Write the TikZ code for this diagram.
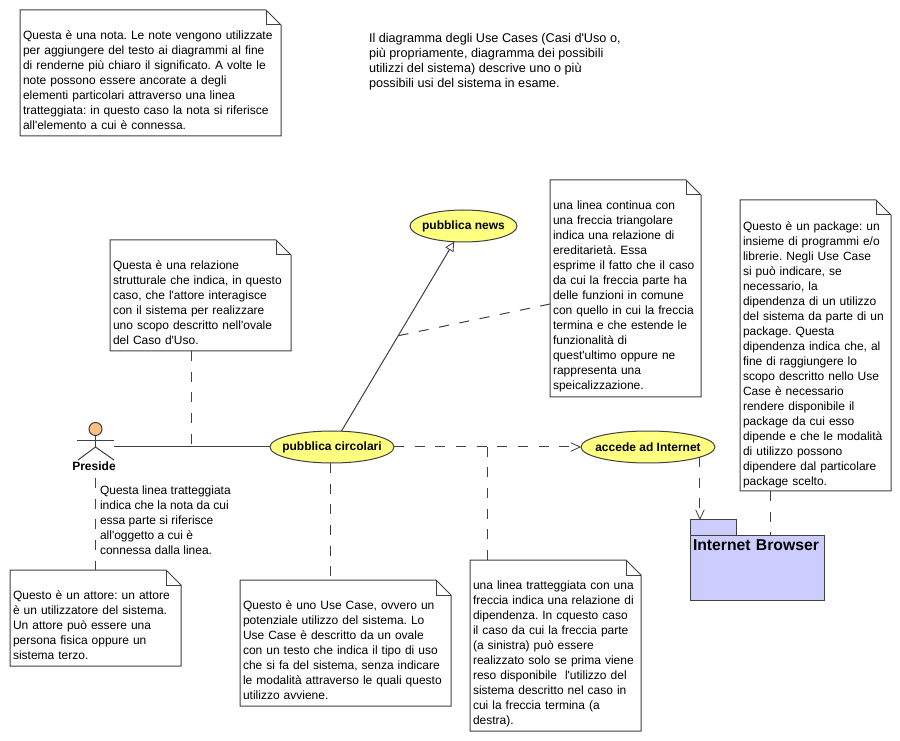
\documentclass[tikz,border=0pt]{standalone}
\usepackage{fontspec}
\newfontfamily\umlfont{Liberation Sans}
\usepackage{tikz}
\usetikzlibrary{arrows.meta,calc,shapes.geometric}
\definecolor{umlline}{HTML}{404040}
\definecolor{umlyellow}{HTML}{FFFF80}
\definecolor{umlblue}{HTML}{CCCCFF}
\definecolor{umlhead}{HTML}{FFC080}

\begin{document}
\begin{tikzpicture}[x=0.75pt,y=-0.75pt,
  txt/.style={font=\umlfont\frenchspacing\fontsize{9}{11.25}\selectfont, align=left, anchor=north west, inner xsep=2.25pt, inner ysep=2pt, outer sep=0pt},
  note/.style 2 args={txt, text width=(#1-6)*0.75pt, text height=20pt, text depth=#2*0.75pt-24pt},
  free/.style={txt, inner sep=0pt},
  noteline/.style={draw=umlline, line width=0.75pt},
  usecase/.style={ellipse, draw=umlline, fill=umlyellow, line width=0.75pt, inner xsep=-14pt, inner ysep=0pt, outer sep=0pt,
                  minimum height=24pt, font=\umlfont\bfseries\fontsize{9}{10}\selectfont},
  actorname/.style={inner sep=0pt, font=\umlfont\bfseries\fontsize{9}{10}\selectfont},
  pkg/.style={draw=umlline, fill=umlblue, line width=0.75pt, anchor=north west, inner sep=2.25pt, outer sep=0pt},
  solid line/.style={umlline, line width=0.75pt},
  dep/.style={umlline, line width=0.75pt, dash pattern=on 7.5pt off 8pt},
  depar/.style={dep, -{Straight Barb[length=7pt,width=6.5pt,line width=0.6pt]}},
  inherit/.style={solid line, -{Triangle[open,fill=white,length=7pt,width=7pt,line width=0.6pt]}}
]
\useasboundingbox (0,0) rectangle (900,741);
\fill[white] (0,0) rectangle (900,741);

% notes
\node[note={261}{126}] (intro) at (20,10) {Questa è una nota. Le note vengono utilizzate\\per aggiungere del testo ai diagrammi al fine\\di renderne più chiaro il significato. A volte le\\note possono essere ancorate a degli\\elementi particolari attraverso una linea\\tratteggiata: in questo caso la nota si riferisce\\all'elemento a cui è connessa.};
\node[free, font=\umlfont\frenchspacing\fontsize{9.5}{11.25}\selectfont] (descr) at (369,33) {Il diagramma degli Use Cases (Casi d'Uso o,\\più propriamente, diagramma dei possibili\\utilizzi del sistema) descrive uno o più\\possibili usi del sistema in esame.};
\node[note={181}{111}] (relnote) at (110,240) {Questa è una relazione\\strutturale che indica, in questo\\caso, che l'attore interagisce\\con il sistema per realizzare\\uno scopo descritto nell'ovale\\del Caso d'Uso.};
\node[note={151}{217}] (inhnote) at (550,180) {una linea continua con\\una freccia triangolare\\indica una relazione di\\ereditarietà. Essa\\esprime il fatto che il caso\\da cui la freccia parte ha\\delle funzioni in comune\\con quello in cui la freccia\\termina e che estende le\\funzionalità di\\quest'ultimo oppure ne\\rappresenta una\\speicalizzazione.};
\node[note={151}{291}, text height=21pt, text depth=193.25pt] (pkgnote) at (740,200) {Questo è un package: un\\insieme di programmi e/o\\librerie. Negli Use Case\\si può indicare, se\\necessario, la\\dipendenza di un utilizzo\\del sistema da parte di un\\package. Questa\\dipendenza indica che, al\\fine di raggiungere lo\\scopo descritto nello Use\\Case è necessario\\rendere disponibile il\\package da cui esso\\dipende e che le modalità\\di utilizzo possono\\dipendere dal particolare\\package scelto.};
\node[free] (linetxt) at (100,486) {Questa linea tratteggiata\\indica che la nota da cui\\essa parte si riferisce\\all'oggetto a cui è\\connessa dalla linea.};
\node[note={171}{96}] (actnote) at (10,570) {Questo è un attore: un attore\\è un utilizzatore del sistema.\\Un attore può essere una\\persona fisica oppure un\\sistema terzo.};
\node[note={211}{126}] (ucnote) at (240,580) {Questo è uno Use Case, ovvero un\\potenziale utilizzo del sistema. Lo\\Use Case è descritto da un ovale\\con un testo che indica il tipo di uso\\che si fa del sistema, senza indicare\\le modalità attraverso le quali questo\\utilizzo avviene.};
\node[note={171}{171}] (depnote) at (470,560) {una linea tratteggiata con una\\freccia indica una relazione di\\dipendenza. In cquesto caso\\il caso da cui la freccia parte\\(a sinistra) può essere\\realizzato solo se prima viene\\reso disponibile\ \ l'utilizzo del\\sistema descritto nel caso in\\cui la freccia termina (a\\destra).};

\foreach \n in {intro,relnote,inhnote,pkgnote,actnote,ucnote,depnote} {
  \draw[noteline] (\n.north west) -- ($(\n.north east)+(-15,0)$) -- ($(\n.north east)+(0,15)$)
    -- (\n.south east) -- (\n.south west) -- cycle;
  \draw[noteline] ($(\n.north east)+(-15,0)$) -- ($(\n.north east)+(-15,15)$) -- ($(\n.north east)+(0,15)$);
}

% use cases
\node[usecase, minimum width=80.25pt] (news) at (463.5,226) {pubblica news};
\node[usecase, minimum width=93pt] (circolari) at (332,447) {pubblica circolari};
\node[usecase, minimum width=100.5pt] (accede) at (648,447) {accede ad Internet};

% actor
\node[circle, draw=umlline, fill=umlhead, line width=0.75pt, minimum size=9.75pt, inner sep=0pt, outer sep=0pt] (head) at (95.5,429) {};
\node[actorname] (preside) at (94,466) {Preside};
\coordinate (hip) at (95.5,447);
\coordinate (hand) at (114,447);
\draw[solid line] (head.south) -- (hip);
\draw[solid line] (77,441) -- (114,441);
\draw[solid line] (78,460) -- (hip) -- (114,460);

% package
\node[pkg, minimum width=34.5pt, minimum height=11.25pt] (pkgtab) at (690,520) {};
\node[pkg, minimum width=100.5pt, minimum height=48.75pt, text width=96pt, align=left,
      font=\umlfont\bfseries\fontsize{11.8}{14}\selectfont, text depth=33pt] (browser) at (690,535) {Internet Browser};

% connectors
\coordinate (assoc) at (191,446.5);
\coordinate (usefoot) at (330,463);
\coordinate (deptop) at (487,447);
\coordinate (inhpt) at (397,336);
\coordinate (presfoot) at (95.5,478);
\coordinate (pkgup) at (770,491);
\coordinate (inhend) at (550,304);

\draw[solid line] (hand) -- (circolari.west);
\draw[inherit] (circolari) -- (news);
\draw[depar] (circolari.east) -- (accede.west);
\draw[depar] (accede.-11) -- (accede.-11 |- pkgtab.north);
\draw[dep] (relnote.south -| assoc) -- (assoc);
\draw[dep] (inhend) -- (inhpt);
\draw[dep] (presfoot) -- (actnote.north -| presfoot);
\draw[dep] (usefoot) -- (ucnote.north -| usefoot);
\draw[dep] (depnote.north -| deptop) -- (deptop);
\draw[dep] (pkgnote.south -| pkgup) -- (browser.north -| pkgup);
\end{tikzpicture}
\end{document}
